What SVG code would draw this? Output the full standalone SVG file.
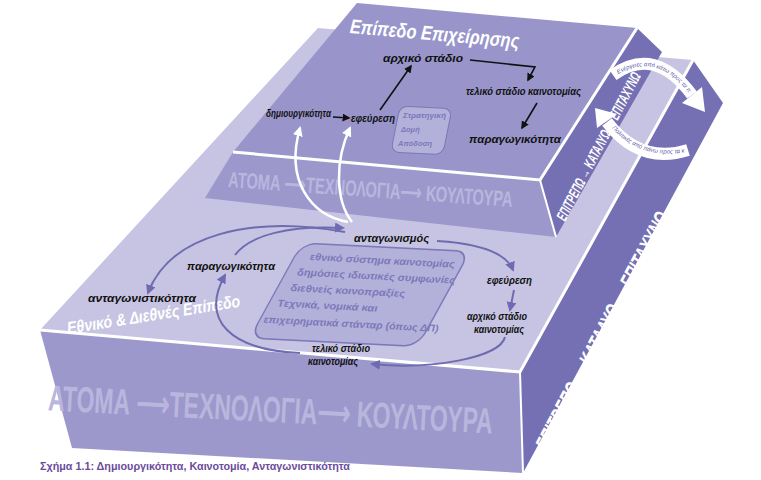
<svg xmlns="http://www.w3.org/2000/svg" width="761" height="480" viewBox="0 0 761 480">
<defs>
<style>
.lb{font-family:"Liberation Sans",Arial,sans-serif;font-weight:bold;font-style:italic;fill:#111}
.lp{font-family:"Liberation Sans",Arial,sans-serif;font-weight:bold;font-style:italic;fill:#7c78b9}
.wt{font-family:"Liberation Sans",Arial,sans-serif;font-weight:bold;font-style:italic;fill:#fff}
.bnd{font-family:"Liberation Sans",Arial,sans-serif;font-weight:bold;fill:#b9b6de}
.pa{fill:none;stroke:#6f6bb0;stroke-width:2;marker-end:url(#hp)}
.ba{fill:none;stroke:#111;stroke-width:1.6;marker-end:url(#hb)}
.wa{fill:none;stroke:#fff;stroke-width:2.5;marker-end:url(#hw)}
.lp2{font-family:"Liberation Sans",Arial,sans-serif;font-style:italic;font-size:6px;fill:#5e5aa8}
</style>
<marker id="hp" viewBox="0 0 10 10" refX="8" refY="5" markerWidth="5" markerHeight="5" orient="auto"><path d="M0,0L10,5L0,10z" fill="#6f6bb0"/></marker>
<marker id="hb" viewBox="0 0 10 10" refX="8" refY="5" markerWidth="5" markerHeight="5" orient="auto"><path d="M0,0L10,5L0,10z" fill="#111"/></marker>
<marker id="hw" viewBox="0 0 10 10" refX="8" refY="5" markerWidth="4" markerHeight="4" orient="auto"><path d="M0,0L10,5L0,10z" fill="#fff"/></marker>
<path id="c1" d="M618,74 Q656,52 688,92"/>
<path id="c2" d="M612,128 Q640,160 686,152"/>
</defs>

<g id="lower-slab">
<polygon points="318,28 693,60 520,372 40,330" fill="#c6c4e2"/>
<polygon points="40,330 520,372 523,473 72,448" fill="#9c98cc"/>
<polygon points="693,60 723,103 523,473 520,372" fill="#7570b3"/>
<polyline points="40,330 520,372 693,60" fill="none" stroke="#fff" stroke-width="3"/>
<line x1="520" y1="372" x2="523" y2="473" stroke="#fff" stroke-width="2"/>
<text class="bnd" font-size="36" x="48" y="422" textLength="445" lengthAdjust="spacingAndGlyphs" transform="rotate(3 270 410)">ΑΤΟΜΑ ⟶ΤΕΧΝΟΛΟΓΙΑ⟶ ΚΟΥΛΤΟΥΡΑ</text>
<text class="wt" font-size="22" x="0" y="0" textLength="265" lengthAdjust="spacingAndGlyphs" transform="translate(548,452) rotate(-62.5)">ΕΠΙΤΡΕΠΩ → ΚΑΤΑΛΥΩ → ΕΠΙΤΑΧΥΝΩ</text>
<text class="wt" font-size="17" x="0" y="0" textLength="175" lengthAdjust="spacingAndGlyphs" transform="translate(68,334) rotate(-9)">Εθνικό &amp; Διεθνές Επίπεδο</text>
</g>

<g id="upper-block">
<polygon points="357,3 637,28 540,180 233,152" fill="#9995ca"/>
<polygon points="233,152 540,180 556,237 205,198" fill="#9c98cc"/>
<polygon points="637,28 662,52 556,237 540,180" fill="#7570b3"/>
<polyline points="233,152 540,180 637,28" fill="none" stroke="#fff" stroke-width="3"/>
<line x1="540" y1="180" x2="556" y2="237" stroke="#fff" stroke-width="2"/>
<text class="bnd" font-size="22" x="228" y="197" textLength="285" lengthAdjust="spacingAndGlyphs" transform="rotate(4 370 190)">ΑΤΟΜΑ ⟶ΤΕΧΝΟΛΟΓΙΑ⟶ ΚΟΥΛΤΟΥΡΑ</text>
<text class="wt" font-size="15" x="0" y="0" textLength="165" lengthAdjust="spacingAndGlyphs" transform="translate(565,222) rotate(-62.5)">ΕΠΙΤΡΕΠΩ → ΚΑΤΑΛΥΩ → ΕΠΙΤΑΧΥΝΩ</text>
<text class="wt" font-size="20" x="350" y="40" textLength="170" lengthAdjust="spacingAndGlyphs" transform="rotate(5 430 30)">Επίπεδο Επιχείρησης</text>
</g>

<g id="strategy-box">
<rect x="0" y="0" width="52" height="46" rx="8" fill="#b3b0da" stroke="#7c78b9" stroke-width="1" transform="matrix(1,0.05,-0.2,1,400,106)"/>
<text class="lp" font-size="7.5" x="403" y="118" textLength="43" lengthAdjust="spacingAndGlyphs">Στρατηγική</text>
<text class="lp" font-size="7.5" x="401" y="132">Δομή</text>
<text class="lp" font-size="7.5" x="398" y="146">Απόδοση</text>
</g>

<g id="national-box">
<rect x="0" y="0" width="168" height="95" rx="14" fill="#b3b0da" stroke="#7c78b9" stroke-width="1.5" transform="matrix(1,0.05,-0.55,1,302,243)"/>
<g transform="rotate(3 365 296)">
<text class="lp" font-size="10" x="308" y="263" textLength="145" lengthAdjust="spacingAndGlyphs">εθνικό σύστημα καινοτομίας</text>
<text class="lp" font-size="10" x="296" y="279" textLength="158" lengthAdjust="spacingAndGlyphs">δημόσιες ιδιωτικές συμφωνίες</text>
<text class="lp" font-size="10" x="290" y="295" textLength="115" lengthAdjust="spacingAndGlyphs">διεθνείς κοινοπραξίες</text>
<text class="lp" font-size="10" x="278" y="311" textLength="100" lengthAdjust="spacingAndGlyphs">Τεχνικά, νομικά και</text>
<text class="lp" font-size="10" x="265" y="328" textLength="175" lengthAdjust="spacingAndGlyphs">επιχειρηματικά στάνταρ (όπως ΔΠ)</text>
</g>
</g>

<g id="connectors">
<line class="ba" x1="333" y1="117" x2="349" y2="118"/>
<line class="ba" x1="380" y1="110" x2="411" y2="66"/>
<polyline class="ba" points="470,60 535,67 528,80"/>
<line class="ba" x1="537" y1="103" x2="522" y2="128"/>
<path class="wa" d="M348,222 C310,215 285,180 300,128"/>
<path class="wa" d="M352,222 C335,200 335,160 350,128"/>
<path class="pa" d="M345,232 C250,215 170,235 148,293"/>
<path class="pa" d="M235,255 C250,235 290,225 343,228"/>
<path class="pa" d="M437,241 C470,243 505,250 513,270"/>
<line class="pa" x1="514" y1="290" x2="510" y2="310"/>
<path class="pa" d="M505,337 C500,358 430,370 372,364"/>
<path class="pa" d="M300,353 C230,350 200,320 225,275"/>
</g>

<g id="loops">
<path d="M613,75 Q655,45 692,95" fill="none" stroke="#fff" stroke-width="12"/>
<polygon points="702,87 682,103 705,112" fill="#fff"/>
<path d="M688,150 Q640,165 607,122" fill="none" stroke="#fff" stroke-width="12"/>
<polygon points="617,114 597,128 595,108" fill="#fff"/>
<text class="lp2"><textPath href="#c1">Ενέργειες από κάτω προς τα πάνω</textPath></text>
<text class="lp2"><textPath href="#c2">Πολιτικές από πάνω προς τα κάτω</textPath></text>
</g>

<g id="top-labels">
<text class="lb" font-size="11" x="383" y="62" textLength="80" lengthAdjust="spacingAndGlyphs">αρχικό στάδιο</text>
<text class="lb" font-size="11" x="466" y="95" textLength="115" lengthAdjust="spacingAndGlyphs">τελικό στάδιο καινοτομίας</text>
<text class="lb" font-size="10" x="266" y="117" textLength="65" lengthAdjust="spacingAndGlyphs">δημιουργικότητα</text>
<text class="lb" font-size="11" x="351" y="122" textLength="44" lengthAdjust="spacingAndGlyphs">εφεύρεση</text>
<text class="lb" font-size="11" x="469" y="143" textLength="92" lengthAdjust="spacingAndGlyphs">παραγωγικότητα</text>
</g>

<g id="lower-labels">
<text class="lb" font-size="11" x="354" y="242" textLength="75" lengthAdjust="spacingAndGlyphs">ανταγωνισμός</text>
<text class="lb" font-size="11" x="187" y="270" textLength="88" lengthAdjust="spacingAndGlyphs">παραγωγικότητα</text>
<text class="lb" font-size="11" x="88" y="302" textLength="108" lengthAdjust="spacingAndGlyphs">ανταγωνιστικότητα</text>
<text class="lb" font-size="11" x="487" y="284" textLength="45" lengthAdjust="spacingAndGlyphs">εφεύρεση</text>
<text class="lb" font-size="10" x="467" y="320" textLength="60" lengthAdjust="spacingAndGlyphs">αρχικό στάδιο</text>
<text class="lb" font-size="10" x="474" y="333" textLength="50" lengthAdjust="spacingAndGlyphs">καινοτομίας</text>
<text class="lb" font-size="10" x="312" y="352" textLength="58" lengthAdjust="spacingAndGlyphs">τελικό στάδιο</text>
<text class="lb" font-size="10" x="308" y="365" textLength="50" lengthAdjust="spacingAndGlyphs">καινοτομίας</text>
</g>

<text font-family="Liberation Sans,Arial,sans-serif" font-size="10" font-weight="bold" fill="#6b4b9c" x="40" y="470" textLength="310" lengthAdjust="spacingAndGlyphs">Σχήμα 1.1: Δημιουργικότητα, Καινοτομία, Ανταγωνιστικότητα</text>
</svg>
